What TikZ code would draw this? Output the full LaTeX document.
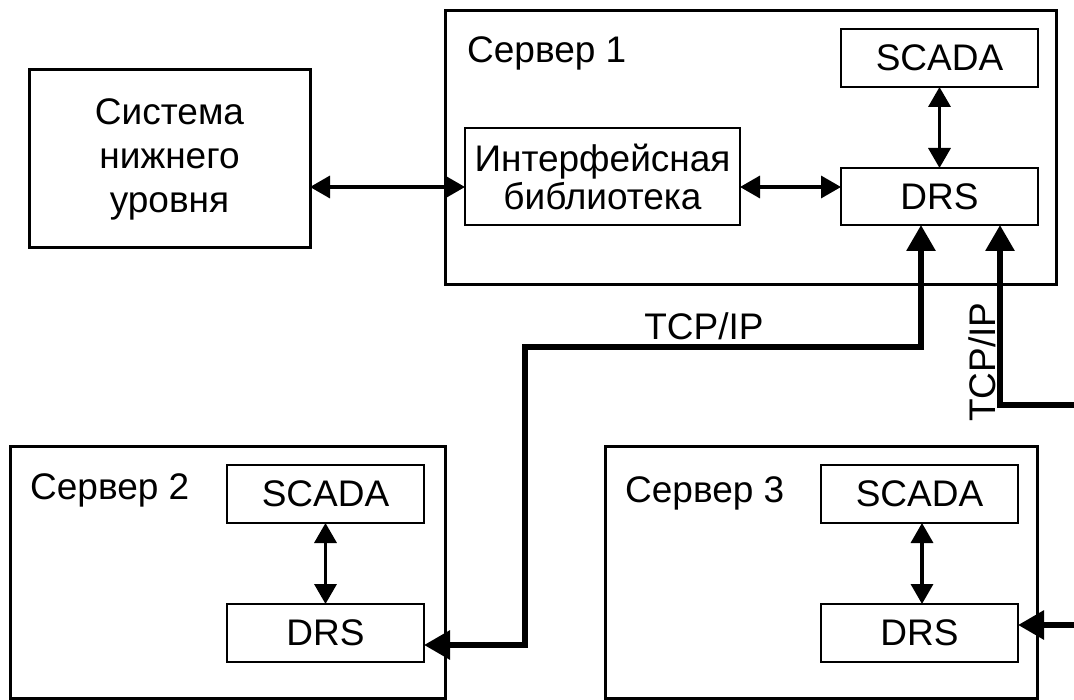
\documentclass[tikz,border=0pt]{standalone}
\usepackage{fontspec}
\setmainfont{Liberation Sans}
\usetikzlibrary{arrows.meta}
\begin{document}
\begin{tikzpicture}[x=1pt,y=-1pt,
  big/.style={draw,line width=3pt,inner sep=0pt,outer sep=0pt},
  small/.style={draw,line width=1.4pt,inner sep=0pt,outer sep=0pt,align=center},
  lbl/.style={inner sep=0pt,anchor=base west},
  arr/.style={line width=3.5pt,{Triangle[length=20pt,width=22pt]}-{Triangle[length=20pt,width=22pt]}},
  net/.style={line width=6pt,line join=miter},
  every node/.style={font=\fontsize{37}{42}\selectfont}]
\useasboundingbox (0,0) rectangle (1074,700);
% boxes
\node[big,minimum width=281pt,minimum height=178pt,align=center,
  font=\fontsize{37}{44}\selectfont] (low) at (169.5,159) {Система\\нижнего\\уровня};
\node[big,minimum width=611pt,minimum height=274pt] (s1) at (750.5,148) {};
\node[lbl] (s1l) at (467,63) {Сервер 1};
\node[small,minimum width=197pt,minimum height=58pt] (scada1) at (939.5,58) {SCADA};
\node[small,minimum width=197pt,minimum height=57pt] (drs1) at (939.5,196.5) {DRS};
\node[small,minimum width=275pt,minimum height=97pt,font=\fontsize{37}{38}\selectfont] (lib) at (602.5,176.5) {Интерфейсная\\библиотека};
\node[big,minimum width=435pt,minimum height=251pt] (s2) at (227.5,572.5) {};
\node[lbl] (s2l) at (30,500) {Сервер 2};
\node[small,minimum width=197pt,minimum height=58pt] (scada2) at (325.5,494) {SCADA};
\node[small,minimum width=197pt,minimum height=58pt] (drs2) at (325.5,633) {DRS};
\node[big,minimum width=432pt,minimum height=251pt] (s3) at (821,572.5) {};
\node[lbl] (s3l) at (625,502) {Сервер 3};
\node[small,minimum width=197pt,minimum height=58pt] (scada3) at (919.5,494) {SCADA};
\node[small,minimum width=197pt,minimum height=58pt] (drs3) at (919.5,633) {DRS};
% inner connectors
\draw[arr] (low.east |- 0,187) -- (lib.west |- 0,187);
\draw[arr] (lib.east |- 0,187) -- (drs1.west |- 0,187);
\draw[arr] (scada1.south) -- (drs1.north);
\draw[arr] (scada2.south) -- (drs2.north);
\draw[arr] (scada3.south -| 922,0) -- (drs3.north -| 922,0);
% network
\coordinate (e1) at (1074,405);
\coordinate (e2) at (1074,625);
\draw[net,{Triangle[length=26pt,width=28pt]}-{Triangle[length=26pt,width=28pt]}]
  (drs1.south -| 921,0) -- (921,347) -- (525,347) -- (525,645) -- (drs2.east |- 0,645);
\draw[net,{Triangle[length=26pt,width=28pt]}-] (drs1.south -| 1000,0) -- (1000,405) -- (e1);
\draw[net,-{Triangle[length=26pt,width=28pt]}] (e2) -- (drs3.east |- e2);
\node[inner sep=0pt,anchor=base] (tcp1) at (704,340) {TCP/IP};
\node[inner sep=0pt,anchor=base,rotate=90] (tcp2) at (995,362) {TCP/IP};
\end{tikzpicture}
\end{document}
